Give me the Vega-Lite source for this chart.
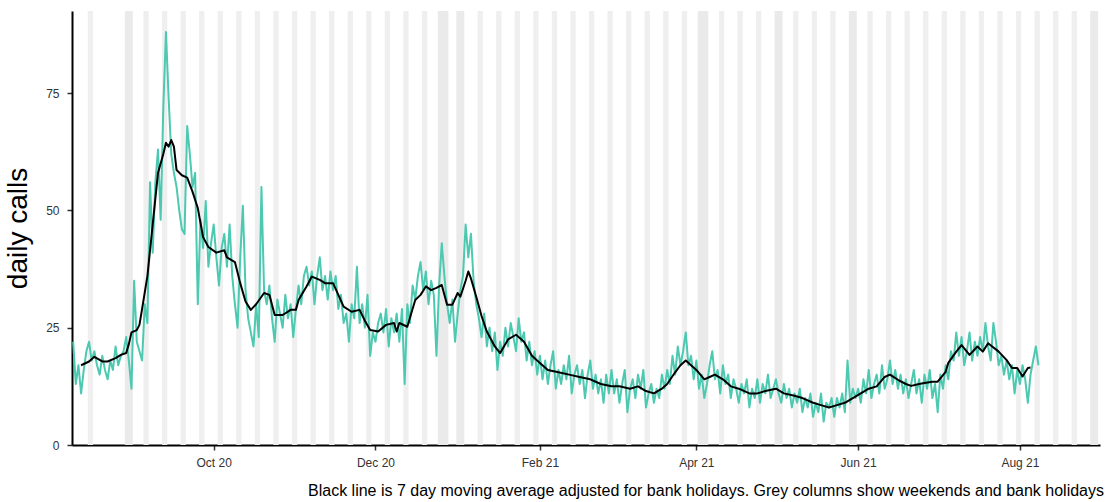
{
"$schema":"https://vega.github.io/schema/vega-lite/v6.json",
"width":1028,"height":434,
"autosize":{"type":"none"},
"padding":{"left":72,"top":11,"right":8,"bottom":57},
"background":"white",
"config":{"view":{"stroke":null},"font":"Liberation Sans"},
"title":{"text":"Black line is 7 day moving average adjusted for bank holidays. Grey columns show weekends and bank holidays","orient":"bottom","anchor":"end","fontSize":16,"fontWeight":"normal","color":"black","offset":15,"dx":4,"font":"Liberation Sans"},
"datasets":{
"wk":[
{"d":"2020-08-14T12:00:00Z","e":"2020-08-16T12:00:00Z","t":"w"},
{"d":"2020-08-28T12:00:00Z","e":"2020-08-31T12:00:00Z","t":"b"},
{"d":"2020-09-04T12:00:00Z","e":"2020-09-06T12:00:00Z","t":"w"},
{"d":"2020-09-11T12:00:00Z","e":"2020-09-13T12:00:00Z","t":"w"},
{"d":"2020-09-18T12:00:00Z","e":"2020-09-20T12:00:00Z","t":"w"},
{"d":"2020-09-25T12:00:00Z","e":"2020-09-27T12:00:00Z","t":"w"},
{"d":"2020-10-02T12:00:00Z","e":"2020-10-04T12:00:00Z","t":"w"},
{"d":"2020-10-09T12:00:00Z","e":"2020-10-11T12:00:00Z","t":"w"},
{"d":"2020-10-16T12:00:00Z","e":"2020-10-18T12:00:00Z","t":"w"},
{"d":"2020-10-23T12:00:00Z","e":"2020-10-25T12:00:00Z","t":"w"},
{"d":"2020-10-30T12:00:00Z","e":"2020-11-01T12:00:00Z","t":"w"},
{"d":"2020-11-06T12:00:00Z","e":"2020-11-08T12:00:00Z","t":"w"},
{"d":"2020-11-13T12:00:00Z","e":"2020-11-15T12:00:00Z","t":"w"},
{"d":"2020-11-20T12:00:00Z","e":"2020-11-22T12:00:00Z","t":"w"},
{"d":"2020-11-27T12:00:00Z","e":"2020-11-29T12:00:00Z","t":"w"},
{"d":"2020-12-04T12:00:00Z","e":"2020-12-06T12:00:00Z","t":"w"},
{"d":"2020-12-11T12:00:00Z","e":"2020-12-13T12:00:00Z","t":"w"},
{"d":"2020-12-18T12:00:00Z","e":"2020-12-20T12:00:00Z","t":"w"},
{"d":"2020-12-24T12:00:00Z","e":"2020-12-28T12:00:00Z","t":"b"},
{"d":"2020-12-31T12:00:00Z","e":"2021-01-03T12:00:00Z","t":"b"},
{"d":"2021-01-08T12:00:00Z","e":"2021-01-10T12:00:00Z","t":"w"},
{"d":"2021-01-15T12:00:00Z","e":"2021-01-17T12:00:00Z","t":"w"},
{"d":"2021-01-22T12:00:00Z","e":"2021-01-24T12:00:00Z","t":"w"},
{"d":"2021-01-29T12:00:00Z","e":"2021-01-31T12:00:00Z","t":"w"},
{"d":"2021-02-05T12:00:00Z","e":"2021-02-07T12:00:00Z","t":"w"},
{"d":"2021-02-12T12:00:00Z","e":"2021-02-14T12:00:00Z","t":"w"},
{"d":"2021-02-19T12:00:00Z","e":"2021-02-21T12:00:00Z","t":"w"},
{"d":"2021-02-26T12:00:00Z","e":"2021-02-28T12:00:00Z","t":"w"},
{"d":"2021-03-05T12:00:00Z","e":"2021-03-07T12:00:00Z","t":"w"},
{"d":"2021-03-12T12:00:00Z","e":"2021-03-14T12:00:00Z","t":"w"},
{"d":"2021-03-19T12:00:00Z","e":"2021-03-21T12:00:00Z","t":"w"},
{"d":"2021-03-26T12:00:00Z","e":"2021-03-28T12:00:00Z","t":"w"},
{"d":"2021-04-01T12:00:00Z","e":"2021-04-05T12:00:00Z","t":"b"},
{"d":"2021-04-09T12:00:00Z","e":"2021-04-11T12:00:00Z","t":"w"},
{"d":"2021-04-16T12:00:00Z","e":"2021-04-18T12:00:00Z","t":"w"},
{"d":"2021-04-23T12:00:00Z","e":"2021-04-25T12:00:00Z","t":"w"},
{"d":"2021-04-30T12:00:00Z","e":"2021-05-03T12:00:00Z","t":"b"},
{"d":"2021-05-07T12:00:00Z","e":"2021-05-09T12:00:00Z","t":"w"},
{"d":"2021-05-14T12:00:00Z","e":"2021-05-16T12:00:00Z","t":"w"},
{"d":"2021-05-21T12:00:00Z","e":"2021-05-23T12:00:00Z","t":"w"},
{"d":"2021-05-28T12:00:00Z","e":"2021-05-31T12:00:00Z","t":"b"},
{"d":"2021-06-04T12:00:00Z","e":"2021-06-06T12:00:00Z","t":"w"},
{"d":"2021-06-11T12:00:00Z","e":"2021-06-13T12:00:00Z","t":"w"},
{"d":"2021-06-18T12:00:00Z","e":"2021-06-20T12:00:00Z","t":"w"},
{"d":"2021-06-25T12:00:00Z","e":"2021-06-27T12:00:00Z","t":"w"},
{"d":"2021-07-02T12:00:00Z","e":"2021-07-04T12:00:00Z","t":"w"},
{"d":"2021-07-09T12:00:00Z","e":"2021-07-11T12:00:00Z","t":"w"},
{"d":"2021-07-16T12:00:00Z","e":"2021-07-18T12:00:00Z","t":"w"},
{"d":"2021-07-23T12:00:00Z","e":"2021-07-25T12:00:00Z","t":"w"},
{"d":"2021-07-30T12:00:00Z","e":"2021-08-01T12:00:00Z","t":"w"},
{"d":"2021-08-06T12:00:00Z","e":"2021-08-08T12:00:00Z","t":"w"},
{"d":"2021-08-13T12:00:00Z","e":"2021-08-15T12:00:00Z","t":"w"},
{"d":"2021-08-20T12:00:00Z","e":"2021-08-22T12:00:00Z","t":"w"},
{"d":"2021-08-27T12:00:00Z","e":"2021-08-30T12:00:00Z","t":"b"}
],
"calls":[
{"d":"2020-08-09","v":22},{"d":"2020-08-10","v":13},{"d":"2020-08-11","v":17},{"d":"2020-08-12","v":11},{"d":"2020-08-13","v":16},{"d":"2020-08-14","v":20},{"d":"2020-08-15","v":22},{"d":"2020-08-16","v":18},{"d":"2020-08-17","v":20},{"d":"2020-08-18","v":17},{"d":"2020-08-19","v":15},{"d":"2020-08-20","v":19},{"d":"2020-08-21","v":16},{"d":"2020-08-22","v":14},{"d":"2020-08-23","v":18},{"d":"2020-08-24","v":16},{"d":"2020-08-25","v":21},{"d":"2020-08-26","v":17},{"d":"2020-08-27","v":19},{"d":"2020-08-28","v":20},{"d":"2020-08-29","v":23},{"d":"2020-08-30","v":18},{"d":"2020-08-31","v":12},
{"d":"2020-09-01","v":35},{"d":"2020-09-02","v":22},{"d":"2020-09-03","v":20},{"d":"2020-09-04","v":18},{"d":"2020-09-05","v":30},{"d":"2020-09-06","v":26},{"d":"2020-09-07","v":56},{"d":"2020-09-08","v":41},{"d":"2020-09-09","v":56},{"d":"2020-09-10","v":63},{"d":"2020-09-11","v":48},{"d":"2020-09-12","v":72},{"d":"2020-09-13","v":88},{"d":"2020-09-14","v":74},{"d":"2020-09-15","v":62},{"d":"2020-09-16","v":58},{"d":"2020-09-17","v":55},{"d":"2020-09-18","v":50},{"d":"2020-09-19","v":46},{"d":"2020-09-20","v":45},{"d":"2020-09-21","v":68},{"d":"2020-09-22","v":62},{"d":"2020-09-23","v":55},{"d":"2020-09-24","v":58},{"d":"2020-09-25","v":30},{"d":"2020-09-26","v":48},{"d":"2020-09-27","v":42},{"d":"2020-09-28","v":52},{"d":"2020-09-29","v":38},{"d":"2020-09-30","v":43},
{"d":"2020-10-01","v":47},{"d":"2020-10-02","v":40},{"d":"2020-10-03","v":34},{"d":"2020-10-04","v":42},{"d":"2020-10-05","v":45},{"d":"2020-10-06","v":38},{"d":"2020-10-07","v":47},{"d":"2020-10-08","v":36},{"d":"2020-10-09","v":30},{"d":"2020-10-10","v":25},{"d":"2020-10-11","v":40},{"d":"2020-10-12","v":51},{"d":"2020-10-13","v":33},{"d":"2020-10-14","v":27},{"d":"2020-10-15","v":24},{"d":"2020-10-16","v":21},{"d":"2020-10-17","v":30},{"d":"2020-10-18","v":23},{"d":"2020-10-19","v":55},{"d":"2020-10-20","v":33},{"d":"2020-10-21","v":30},{"d":"2020-10-22","v":34},{"d":"2020-10-23","v":27},{"d":"2020-10-24","v":22},{"d":"2020-10-25","v":31},{"d":"2020-10-26","v":28},{"d":"2020-10-27","v":25},{"d":"2020-10-28","v":32},{"d":"2020-10-29","v":27},{"d":"2020-10-30","v":30},{"d":"2020-10-31","v":23},
{"d":"2020-11-01","v":29},{"d":"2020-11-02","v":34},{"d":"2020-11-03","v":30},{"d":"2020-11-04","v":36},{"d":"2020-11-05","v":38},{"d":"2020-11-06","v":34},{"d":"2020-11-07","v":37},{"d":"2020-11-08","v":30},{"d":"2020-11-09","v":36},{"d":"2020-11-10","v":40},{"d":"2020-11-11","v":33},{"d":"2020-11-12","v":36},{"d":"2020-11-13","v":31},{"d":"2020-11-14","v":37},{"d":"2020-11-15","v":33},{"d":"2020-11-16","v":36},{"d":"2020-11-17","v":29},{"d":"2020-11-18","v":32},{"d":"2020-11-19","v":26},{"d":"2020-11-20","v":28},{"d":"2020-11-21","v":22},{"d":"2020-11-22","v":30},{"d":"2020-11-23","v":27},{"d":"2020-11-24","v":38},{"d":"2020-11-25","v":26},{"d":"2020-11-26","v":30},{"d":"2020-11-27","v":25},{"d":"2020-11-28","v":32},{"d":"2020-11-29","v":19},{"d":"2020-11-30","v":24},
{"d":"2020-12-01","v":22},{"d":"2020-12-02","v":26},{"d":"2020-12-03","v":28},{"d":"2020-12-04","v":24},{"d":"2020-12-05","v":29},{"d":"2020-12-06","v":21},{"d":"2020-12-07","v":27},{"d":"2020-12-08","v":24},{"d":"2020-12-09","v":28},{"d":"2020-12-10","v":22},{"d":"2020-12-11","v":29},{"d":"2020-12-12","v":13},{"d":"2020-12-13","v":30},{"d":"2020-12-14","v":26},{"d":"2020-12-15","v":34},{"d":"2020-12-16","v":31},{"d":"2020-12-17","v":36},{"d":"2020-12-18","v":39},{"d":"2020-12-19","v":33},{"d":"2020-12-20","v":37},{"d":"2020-12-21","v":30},{"d":"2020-12-22","v":35},{"d":"2020-12-23","v":32},{"d":"2020-12-24","v":19},{"d":"2020-12-25","v":34},{"d":"2020-12-26","v":43},{"d":"2020-12-27","v":36},{"d":"2020-12-28","v":30},{"d":"2020-12-29","v":26},{"d":"2020-12-30","v":31},{"d":"2020-12-31","v":22},
{"d":"2021-01-01","v":28},{"d":"2021-01-02","v":33},{"d":"2021-01-03","v":36},{"d":"2021-01-04","v":47},{"d":"2021-01-05","v":40},{"d":"2021-01-06","v":45},{"d":"2021-01-07","v":35},{"d":"2021-01-08","v":30},{"d":"2021-01-09","v":27},{"d":"2021-01-10","v":23},{"d":"2021-01-11","v":28},{"d":"2021-01-12","v":21},{"d":"2021-01-13","v":25},{"d":"2021-01-14","v":20},{"d":"2021-01-15","v":24},{"d":"2021-01-16","v":16},{"d":"2021-01-17","v":22},{"d":"2021-01-18","v":19},{"d":"2021-01-19","v":25},{"d":"2021-01-20","v":21},{"d":"2021-01-21","v":26},{"d":"2021-01-22","v":23},{"d":"2021-01-23","v":20},{"d":"2021-01-24","v":27},{"d":"2021-01-25","v":22},{"d":"2021-01-26","v":24},{"d":"2021-01-27","v":18},{"d":"2021-01-28","v":22},{"d":"2021-01-29","v":17},{"d":"2021-01-30","v":20},{"d":"2021-01-31","v":15},
{"d":"2021-02-01","v":19},{"d":"2021-02-02","v":14},{"d":"2021-02-03","v":18},{"d":"2021-02-04","v":13},{"d":"2021-02-05","v":17},{"d":"2021-02-06","v":20},{"d":"2021-02-07","v":12},{"d":"2021-02-08","v":16},{"d":"2021-02-09","v":13},{"d":"2021-02-10","v":17},{"d":"2021-02-11","v":14},{"d":"2021-02-12","v":19},{"d":"2021-02-13","v":11},{"d":"2021-02-14","v":15},{"d":"2021-02-15","v":17},{"d":"2021-02-16","v":13},{"d":"2021-02-17","v":16},{"d":"2021-02-18","v":10},{"d":"2021-02-19","v":15},{"d":"2021-02-20","v":18},{"d":"2021-02-21","v":12},{"d":"2021-02-22","v":15},{"d":"2021-02-23","v":11},{"d":"2021-02-24","v":14},{"d":"2021-02-25","v":9},{"d":"2021-02-26","v":15},{"d":"2021-02-27","v":11},{"d":"2021-02-28","v":16},
{"d":"2021-03-01","v":11},{"d":"2021-03-02","v":14},{"d":"2021-03-03","v":9},{"d":"2021-03-04","v":13},{"d":"2021-03-05","v":16},{"d":"2021-03-06","v":7},{"d":"2021-03-07","v":12},{"d":"2021-03-08","v":14},{"d":"2021-03-09","v":10},{"d":"2021-03-10","v":15},{"d":"2021-03-11","v":12},{"d":"2021-03-12","v":16},{"d":"2021-03-13","v":8},{"d":"2021-03-14","v":11},{"d":"2021-03-15","v":13},{"d":"2021-03-16","v":9},{"d":"2021-03-17","v":12},{"d":"2021-03-18","v":10},{"d":"2021-03-19","v":15},{"d":"2021-03-20","v":12},{"d":"2021-03-21","v":16},{"d":"2021-03-22","v":13},{"d":"2021-03-23","v":19},{"d":"2021-03-24","v":15},{"d":"2021-03-25","v":21},{"d":"2021-03-26","v":17},{"d":"2021-03-27","v":20},{"d":"2021-03-28","v":24},{"d":"2021-03-29","v":17},{"d":"2021-03-30","v":19},{"d":"2021-03-31","v":14},
{"d":"2021-04-01","v":18},{"d":"2021-04-02","v":12},{"d":"2021-04-03","v":15},{"d":"2021-04-04","v":10},{"d":"2021-04-05","v":13},{"d":"2021-04-06","v":17},{"d":"2021-04-07","v":20},{"d":"2021-04-08","v":14},{"d":"2021-04-09","v":16},{"d":"2021-04-10","v":11},{"d":"2021-04-11","v":17},{"d":"2021-04-12","v":13},{"d":"2021-04-13","v":15},{"d":"2021-04-14","v":10},{"d":"2021-04-15","v":14},{"d":"2021-04-16","v":12},{"d":"2021-04-17","v":9},{"d":"2021-04-18","v":13},{"d":"2021-04-19","v":11},{"d":"2021-04-20","v":14},{"d":"2021-04-21","v":8},{"d":"2021-04-22","v":12},{"d":"2021-04-23","v":10},{"d":"2021-04-24","v":14},{"d":"2021-04-25","v":9},{"d":"2021-04-26","v":13},{"d":"2021-04-27","v":11},{"d":"2021-04-28","v":15},{"d":"2021-04-29","v":10},{"d":"2021-04-30","v":12},
{"d":"2021-05-01","v":14},{"d":"2021-05-02","v":11},{"d":"2021-05-03","v":9},{"d":"2021-05-04","v":13},{"d":"2021-05-05","v":10},{"d":"2021-05-06","v":12},{"d":"2021-05-07","v":8},{"d":"2021-05-08","v":11},{"d":"2021-05-09","v":9},{"d":"2021-05-10","v":12},{"d":"2021-05-11","v":7},{"d":"2021-05-12","v":10},{"d":"2021-05-13","v":8},{"d":"2021-05-14","v":11},{"d":"2021-05-15","v":6},{"d":"2021-05-16","v":9},{"d":"2021-05-17","v":7},{"d":"2021-05-18","v":11},{"d":"2021-05-19","v":5},{"d":"2021-05-20","v":9},{"d":"2021-05-21","v":8},{"d":"2021-05-22","v":10},{"d":"2021-05-23","v":6},{"d":"2021-05-24","v":10},{"d":"2021-05-25","v":8},{"d":"2021-05-26","v":11},{"d":"2021-05-27","v":7},{"d":"2021-05-28","v":18},{"d":"2021-05-29","v":9},{"d":"2021-05-30","v":12},{"d":"2021-05-31","v":10},
{"d":"2021-06-01","v":12},{"d":"2021-06-02","v":9},{"d":"2021-06-03","v":14},{"d":"2021-06-04","v":11},{"d":"2021-06-05","v":16},{"d":"2021-06-06","v":10},{"d":"2021-06-07","v":13},{"d":"2021-06-08","v":15},{"d":"2021-06-09","v":11},{"d":"2021-06-10","v":17},{"d":"2021-06-11","v":12},{"d":"2021-06-12","v":14},{"d":"2021-06-13","v":18},{"d":"2021-06-14","v":13},{"d":"2021-06-15","v":16},{"d":"2021-06-16","v":12},{"d":"2021-06-17","v":15},{"d":"2021-06-18","v":11},{"d":"2021-06-19","v":14},{"d":"2021-06-20","v":10},{"d":"2021-06-21","v":13},{"d":"2021-06-22","v":16},{"d":"2021-06-23","v":11},{"d":"2021-06-24","v":14},{"d":"2021-06-25","v":9},{"d":"2021-06-26","v":15},{"d":"2021-06-27","v":12},{"d":"2021-06-28","v":16},{"d":"2021-06-29","v":10},{"d":"2021-06-30","v":13},
{"d":"2021-07-01","v":7},{"d":"2021-07-02","v":15},{"d":"2021-07-03","v":12},{"d":"2021-07-04","v":17},{"d":"2021-07-05","v":14},{"d":"2021-07-06","v":20},{"d":"2021-07-07","v":18},{"d":"2021-07-08","v":24},{"d":"2021-07-09","v":19},{"d":"2021-07-10","v":23},{"d":"2021-07-11","v":17},{"d":"2021-07-12","v":20},{"d":"2021-07-13","v":24},{"d":"2021-07-14","v":18},{"d":"2021-07-15","v":22},{"d":"2021-07-16","v":19},{"d":"2021-07-17","v":23},{"d":"2021-07-18","v":20},{"d":"2021-07-19","v":26},{"d":"2021-07-20","v":21},{"d":"2021-07-21","v":18},{"d":"2021-07-22","v":26},{"d":"2021-07-23","v":22},{"d":"2021-07-24","v":17},{"d":"2021-07-25","v":19},{"d":"2021-07-26","v":15},{"d":"2021-07-27","v":18},{"d":"2021-07-28","v":14},{"d":"2021-07-29","v":17},{"d":"2021-07-30","v":11},{"d":"2021-07-31","v":16},
{"d":"2021-08-01","v":13},{"d":"2021-08-02","v":17},{"d":"2021-08-03","v":14},{"d":"2021-08-04","v":9},{"d":"2021-08-05","v":15},{"d":"2021-08-06","v":18},{"d":"2021-08-07","v":21},{"d":"2021-08-08","v":17}
],
"ma":[
{"d":"2020-08-12","v":17},{"d":"2020-08-15","v":17.8},{"d":"2020-08-17","v":18.8},{"d":"2020-08-20","v":17.8},{"d":"2020-08-22","v":17.8},{"d":"2020-08-25","v":18.5},{"d":"2020-08-27","v":19.2},{"d":"2020-08-29","v":19.6},{"d":"2020-08-30","v":21.5},{"d":"2020-08-31","v":24},
{"d":"2020-09-02","v":24.5},{"d":"2020-09-03","v":25.6},{"d":"2020-09-04","v":29},{"d":"2020-09-06","v":36},{"d":"2020-09-08","v":47},{"d":"2020-09-10","v":58},{"d":"2020-09-12","v":62},{"d":"2020-09-13","v":64.4},{"d":"2020-09-14","v":63.6},{"d":"2020-09-15","v":65},{"d":"2020-09-16","v":63.6},{"d":"2020-09-17","v":58.6},{"d":"2020-09-19","v":57.5},{"d":"2020-09-21","v":57},{"d":"2020-09-23","v":54},{"d":"2020-09-25","v":50.5},{"d":"2020-09-27","v":44.3},{"d":"2020-09-29","v":42.2},
{"d":"2020-10-02","v":41},{"d":"2020-10-05","v":41.5},{"d":"2020-10-06","v":40},{"d":"2020-10-09","v":39},{"d":"2020-10-11","v":34.5},{"d":"2020-10-13","v":30.6},{"d":"2020-10-15","v":28.8},{"d":"2020-10-17","v":30},{"d":"2020-10-19","v":31.6},{"d":"2020-10-20","v":32.4},{"d":"2020-10-22","v":32},{"d":"2020-10-24","v":27.7},{"d":"2020-10-27","v":27.7},{"d":"2020-10-30","v":28.8},
{"d":"2020-11-01","v":28.8},{"d":"2020-11-02","v":30.9},{"d":"2020-11-05","v":33.8},{"d":"2020-11-07","v":35.9},{"d":"2020-11-10","v":35.2},{"d":"2020-11-12","v":34.5},{"d":"2020-11-15","v":34.5},{"d":"2020-11-17","v":32},{"d":"2020-11-19","v":29.5},{"d":"2020-11-22","v":28.4},{"d":"2020-11-25","v":28.8},{"d":"2020-11-27","v":26.5},{"d":"2020-11-29","v":24.5},
{"d":"2020-12-02","v":24.2},{"d":"2020-12-05","v":25.6},{"d":"2020-12-08","v":26},{"d":"2020-12-09","v":24.2},{"d":"2020-12-10","v":26},{"d":"2020-12-13","v":25.2},{"d":"2020-12-16","v":30.9},{"d":"2020-12-18","v":32},{"d":"2020-12-20","v":33.8},{"d":"2020-12-22","v":33},{"d":"2020-12-24","v":33.5},{"d":"2020-12-26","v":34.1},{"d":"2020-12-28","v":29.9},{"d":"2020-12-30","v":29.9},
{"d":"2021-01-01","v":32.4},{"d":"2021-01-02","v":31.6},{"d":"2021-01-04","v":35},{"d":"2021-01-05","v":37},{"d":"2021-01-06","v":35.5},{"d":"2021-01-08","v":31.6},{"d":"2021-01-10","v":27.5},{"d":"2021-01-12","v":24.2},{"d":"2021-01-15","v":21},{"d":"2021-01-17","v":19.6},{"d":"2021-01-20","v":22.5},{"d":"2021-01-23","v":23.5},{"d":"2021-01-26","v":22},{"d":"2021-01-29","v":19},
{"d":"2021-02-01","v":17.5},{"d":"2021-02-04","v":16},{"d":"2021-02-08","v":15.5},{"d":"2021-02-12","v":15},{"d":"2021-02-16","v":14.5},{"d":"2021-02-20","v":14},{"d":"2021-02-24","v":13},{"d":"2021-02-28","v":12.5},
{"d":"2021-03-03","v":12.5},{"d":"2021-03-07","v":12},{"d":"2021-03-10","v":12.5},{"d":"2021-03-13","v":11.5},{"d":"2021-03-16","v":11},{"d":"2021-03-19","v":12},{"d":"2021-03-21","v":13},{"d":"2021-03-24","v":15.5},{"d":"2021-03-26","v":17},{"d":"2021-03-28","v":18},{"d":"2021-03-30","v":17},
{"d":"2021-04-01","v":16},{"d":"2021-04-04","v":14},{"d":"2021-04-06","v":14.5},{"d":"2021-04-08","v":15},{"d":"2021-04-11","v":14},{"d":"2021-04-14","v":12.5},{"d":"2021-04-17","v":12},{"d":"2021-04-21","v":11},{"d":"2021-04-24","v":11},{"d":"2021-04-27","v":11.5},
{"d":"2021-05-01","v":12},{"d":"2021-05-04","v":11},{"d":"2021-05-08","v":10.5},{"d":"2021-05-11","v":10},{"d":"2021-05-15","v":9},{"d":"2021-05-18","v":8.5},{"d":"2021-05-21","v":8},{"d":"2021-05-24","v":8.5},{"d":"2021-05-27","v":9},{"d":"2021-05-30","v":10},
{"d":"2021-06-02","v":11},{"d":"2021-06-05","v":12},{"d":"2021-06-08","v":12.5},{"d":"2021-06-11","v":14.5},{"d":"2021-06-13","v":15},{"d":"2021-06-16","v":13.9},{"d":"2021-06-19","v":13},{"d":"2021-06-21","v":12.6},{"d":"2021-06-24","v":13},{"d":"2021-06-26","v":13.2},{"d":"2021-06-29","v":13.5},
{"d":"2021-07-01","v":13.5},{"d":"2021-07-04","v":15.6},{"d":"2021-07-05","v":17.5},{"d":"2021-07-08","v":19.9},{"d":"2021-07-10","v":21.3},{"d":"2021-07-13","v":19.2},{"d":"2021-07-16","v":21},{"d":"2021-07-18","v":19.9},{"d":"2021-07-20","v":21.7},{"d":"2021-07-24","v":19.9},{"d":"2021-07-27","v":18.1},{"d":"2021-07-29","v":16.4},{"d":"2021-07-31","v":16.4},
{"d":"2021-08-02","v":14.6},{"d":"2021-08-04","v":16.4},{"d":"2021-08-05","v":16.5}
]
},
"encoding":{
"x":{"field":"d","type":"temporal",
"scale":{"type":"utc","domain":[{"year":2020,"month":8,"date":8,"hours":13,"minutes":40,"utc":true},{"year":2021,"month":8,"date":31,"hours":4,"minutes":50,"utc":true}]},
"axis":{"values":[{"year":2020,"month":10,"date":1,"utc":true},{"year":2020,"month":12,"date":1,"utc":true},{"year":2021,"month":2,"date":1,"utc":true},{"year":2021,"month":4,"date":1,"utc":true},{"year":2021,"month":6,"date":1,"utc":true},{"year":2021,"month":8,"date":1,"utc":true}],
"labelExpr":"utcFormat(datum.value, '%b %y')","title":null,"grid":false,"domainColor":"black","domainWidth":2,"tickColor":"#333333","tickWidth":1.5,"tickSize":5,"labelFontSize":12,"labelColor":"#333333","labelPadding":7,"labelFont":"Liberation Sans","labelFlush":false}}
},
"layer":[
{"data":{"name":"wk"},"mark":{"type":"rect","clip":true},
"encoding":{"x2":{"field":"e"},"color":{"field":"t","type":"nominal","scale":{"domain":["w","b"],"range":["#efefef","#eaeaea"]},"legend":null}}},
{"data":{"name":"calls"},"mark":{"type":"line","color":"#4CC9B0","strokeWidth":2,"strokeJoin":"round"},
"encoding":{"y":{"field":"v","type":"quantitative","scale":{"domain":[0,92.5],"nice":false,"zero":true},
"axis":{"values":[0,25,50,75],"title":"daily calls","titleFontSize":28,"titleFontWeight":"normal","titleColor":"black","titleFont":"Liberation Sans","titlePadding":13,"grid":false,"domainColor":"black","domainWidth":2,"tickColor":"#333333","tickWidth":1.5,"tickSize":5,"labelFontSize":12,"labelColor":"#333333","labelPadding":8,"labelFont":"Liberation Sans"}}}},
{"data":{"name":"ma"},"mark":{"type":"line","color":"black","strokeWidth":2,"strokeJoin":"round"},
"encoding":{"y":{"field":"v","type":"quantitative",
"axis":{"values":[0,25,50,75],"title":"daily calls","titleFontSize":28,"titleFontWeight":"normal","titleColor":"black","titleFont":"Liberation Sans","titlePadding":13,"grid":false,"domainColor":"black","domainWidth":2,"tickColor":"#333333","tickWidth":1.5,"tickSize":5,"labelFontSize":12,"labelColor":"#333333","labelPadding":8,"labelFont":"Liberation Sans"}}}}
]
}
